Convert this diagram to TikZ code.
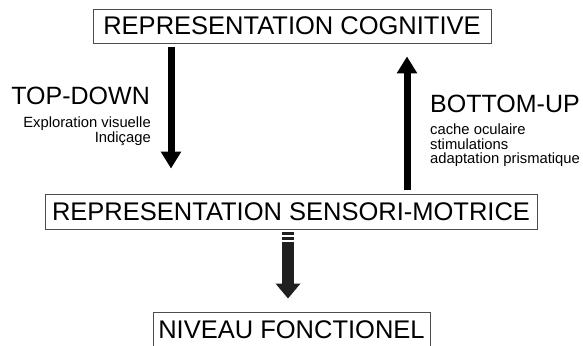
\documentclass[tikz,border=0pt]{standalone}
\usepackage{fontspec}
\setmainfont{Liberation Sans}
\usetikzlibrary{arrows.meta}
\begin{document}
\begin{tikzpicture}[x=1pt,y=-1pt,
  box/.style={draw=black!70,line width=0.9pt,fill=white,inner sep=0pt,
    font=\fontsize{25.5}{28}\selectfont,text=black},
  big/.style={font=\fontsize{25}{28}\selectfont,inner sep=0pt},
  small/.style={font=\fontsize{14.8}{16}\selectfont,inner sep=0pt},
  arr/.style={line width=7pt,-{Triangle[width=19.5pt,length=17pt]}},
  fatarr/.style={line width=12pt,draw=black!88,-{Triangle[width=24pt,length=15pt]}}]
\clip (0,0) rectangle (583,345);
\useasboundingbox (0,0) rectangle (583,345);
\node[box,minimum width=398pt,minimum height=34pt] (b1) at (292,26) {REPRESENTATION COGNITIVE};
\node[box,minimum width=492pt,minimum height=35pt] (b2) at (291,211.5) {REPRESENTATION SENSORI-MOTRICE};
\node[box,minimum width=277pt,minimum height=35pt] (b3) at (291.5,329.5) {NIVEAU FONCTIONEL};
% top-down
\draw[arr] (b1.south -| 171,0) -- (b2.north -| 171,0) [shorten <=4pt, shorten >=25pt];
% bottom-up
\draw[arr] (b2.north -| 407,0) -- (b1.south -| 407,0) [shorten <=4pt, shorten >=13pt];
% to functional level
\fill[black!88] (282,232) rectangle (294,235);
\fill[black!88] (282,237) rectangle (294,240);
\draw[fatarr] (b2.south -| 288,0) -- (b3.north -| 288,0) [shorten <=13pt, shorten >=13pt];
% labels
\node[big,anchor=base east] (td) at (150,104) {TOP-DOWN};
\node[small,anchor=base east] (td1) at (151,127) {Exploration visuelle};
\node[small,anchor=base east] (td2) at (151,142) {Indiçage};
\node[big,anchor=base west] (bu) at (430,112) {BOTTOM-UP};
\node[small,anchor=base west] (bu1) at (430,134) {cache oculaire};
\node[small,anchor=base west] (bu2) at (430,149) {stimulations};
\node[small,anchor=base west] (bu3) at (430,163) {adaptation prismatique};
\end{tikzpicture}
\end{document}
